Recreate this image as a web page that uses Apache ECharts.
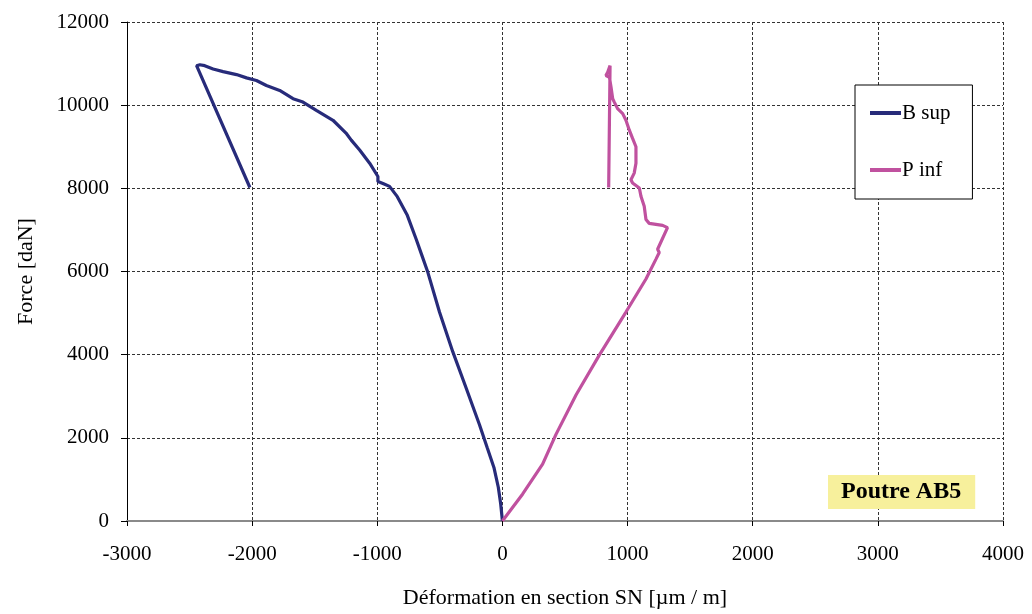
<!DOCTYPE html>
<html>
<head>
<meta charset="utf-8">
<script src="https://cdn.jsdelivr.net/npm/echarts@6/dist/echarts.min.js"></script>
<style>html,body{margin:0;padding:0;background:#fff;}#c{width:1032px;height:614px;}</style>
</head>
<body>
<div id="c"></div>
<script>
// Data
const seriesNames = ['B sup', 'P inf'];
const bSupX = [0, -14, -33, -68, -122, -184, -290, -397, -503, -596, -645, -689, -760, -840, -902, -950, -995, -995, -1061, -1141, -1208, -1250, -1354, -1487, -1594, -1673, -1780, -1886, -1966, -2045, -2125, -2232, -2312, -2379, -2418, -2444, -2018];
const bSupY = [0, 413, 811, 1288, 1765, 2320, 3197, 4072, 5026, 5980, 6400, 6775, 7350, 7800, 8047, 8110, 8166, 8285, 8604, 8922, 9160, 9330, 9637, 9876, 10074, 10155, 10353, 10472, 10592, 10656, 10735, 10806, 10870, 10950, 10973, 10950, 8020];
const pInfX = [0, 162, 321, 428, 589, 774, 987, 1147, 1227, 1253, 1240, 1319, 1280, 1173, 1160, 1147, 1133, 1107, 1094, 1040, 1027, 1053, 1067, 1067, 1040, 1014, 987, 961, 920, 894, 881, 868, 855, 827, 841, 860, 862, 849];
const pInfY = [0, 650, 1367, 2083, 3037, 3990, 5025, 5820, 6298, 6457, 6536, 7054, 7109, 7157, 7188, 7252, 7570, 7808, 8008, 8127, 8206, 8366, 8604, 9000, 9200, 9399, 9637, 9797, 9916, 10074, 10155, 10432, 10671, 10711, 10790, 10950, 10990, 8020];
const xTicks = {min: -3000, max: 4000, interval: 1000};
const yTicks = {min: 0, max: 12000, interval: 2000};
const xTitle = 'Déformation en section SN [µm / m]';
const yTitle = 'Force [daN]';
const annotation = 'Poutre AB5';

const zip = (xs, ys) => xs.map((x, i) => [x, ys[i]]);
const serif = '"Liberation Serif", "DejaVu Serif", serif';
const fs = 21;
const plain = v => String(v);

const chart = echarts.init(document.getElementById('c'), null, {renderer: 'canvas'});
chart.setOption({
  animation: false,
  backgroundColor: '#fff',
  textStyle: {fontFamily: serif},
  grid: {left: 127, right: 29, top: 22, bottom: 90, containLabel: false},
  title: {
    text: annotation, left: 828, top: 475,
    backgroundColor: '#f7f09c', padding: [4, 14, 5, 13],
    textStyle: {fontFamily: serif, fontWeight: 'bold', fontSize: 24, lineHeight: 25, color: '#000'}
  },
  legend: {
    data: seriesNames, orient: 'vertical', left: 855, top: 85,
    borderColor: '#000', borderWidth: 1, backgroundColor: '#fff',
    padding: [17, 22, 18, 15], itemGap: 35, itemWidth: 31, itemHeight: 4,
    icon: 'rect',
    textStyle: {fontFamily: serif, fontSize: fs, lineHeight: 22, color: '#000', padding: [0, 0, 0, -4]}
  },
  xAxis: {
    type: 'value', min: xTicks.min, max: xTicks.max, interval: xTicks.interval,
    name: xTitle, nameLocation: 'middle', nameGap: 66,
    nameTextStyle: {fontFamily: serif, fontSize: 22, color: '#000'},
    axisLine: {onZero: false, lineStyle: {color: '#8a8a8a', width: 2}},
    axisTick: {show: true, length: 5, lineStyle: {color: '#000'}},
    axisLabel: {fontFamily: serif, fontSize: fs, color: '#000', margin: 23, formatter: plain},
    splitLine: {show: true, lineStyle: {color: '#333', type: [3, 2], width: 1}}
  },
  yAxis: {
    type: 'value', min: yTicks.min, max: yTicks.max, interval: yTicks.interval,
    name: yTitle, nameLocation: 'middle', nameGap: 90, nameRotate: 90,
    nameTextStyle: {fontFamily: serif, fontSize: 22, color: '#000'},
    axisLine: {show: true, onZero: false, lineStyle: {color: '#000', width: 1}},
    axisTick: {show: true, length: 6, lineStyle: {color: '#000'}},
    axisLabel: {fontFamily: serif, fontSize: fs, color: '#000', margin: 18, formatter: plain},
    splitLine: {show: true, lineStyle: {color: '#333', type: [3, 2], width: 1}}
  },
  series: [
    {
      name: seriesNames[0], type: 'line', data: zip(bSupX, bSupY),
      showSymbol: false, symbol: 'none', color: '#272b7a',
      lineStyle: {color: '#272b7a', width: 3.2}, z: 3
    },
    {
      name: seriesNames[1], type: 'line', data: zip(pInfX, pInfY),
      showSymbol: false, symbol: 'none', color: '#c0519f',
      lineStyle: {color: '#c0519f', width: 3.2}, z: 4
    }
  ]
});
</script>
</body>
</html>
